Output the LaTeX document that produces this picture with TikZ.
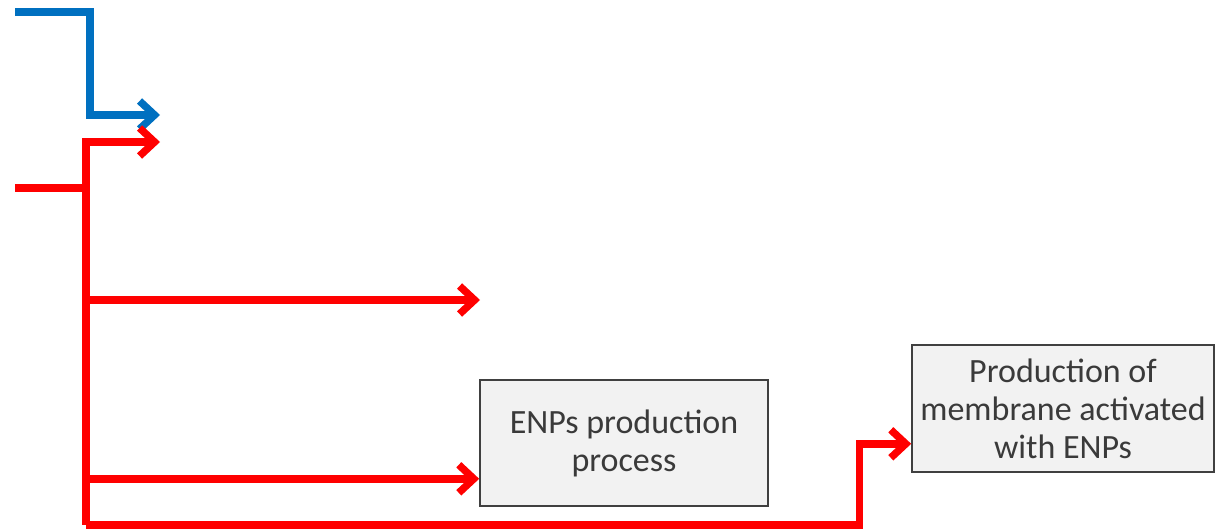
\documentclass[tikz,border=0pt]{standalone}
\usepackage{fontspec}
\setmainfont{Carlito}
\usetikzlibrary{arrows.meta, positioning, calc}
\definecolor{flowblue}{RGB}{0,112,192}
\definecolor{flowred}{RGB}{255,0,0}
\definecolor{boxfill}{RGB}{242,242,242}
\definecolor{boxline}{RGB}{64,64,64}

\begin{document}
\begin{tikzpicture}[
    x=0.5pt, y=-0.5pt,
    procbox/.style={rectangle, draw=boxline, fill=boxfill, line width=0.8pt,
                    align=center, text=boxline!90!black,
                    font=\fontsize{17}{19}\selectfont, inner sep=0pt},
    flow/.style={line width=3.7pt, draw=#1, line join=miter,
                 -{Straight Barb[length=7.5pt, width=14pt, line width=3.7pt]}},
    plain/.style={line width=3.7pt, draw=#1}
]
    \useasboundingbox (0,0) rectangle (1216,530);

    % process boxes
    \node[procbox, minimum width=144pt, minimum height=63pt] (enp) at (624,443)
        {ENPs production\\process};
    \node[procbox, minimum width=151pt, minimum height=63.5pt] (membrane) at (1063,408.5)
        {Production of\\membrane activated\\with ENPs};

    % free ends of the inputs
    \coordinate (blueIn)  at (15,12);
    \coordinate (blueOut) at (160,115);
    \coordinate (redIn)   at (15,188);
    \coordinate (trunk)   at (86,188);
    \coordinate (redOut)  at (160,142);
    \coordinate (midOut)  at (480,300);
    \coordinate (bottom)  at (86,525);
    \coordinate (enpIn)   at ($(enp.south west)+(0,-28)$);
    \coordinate (memIn)   at ($(membrane.south west)+(0,-29)$);

    % blue input
    \draw[flow=flowblue] (blueIn) -- ++(75,0) |- (blueOut);

    % red input and its branches
    \draw[plain=flowred] (redIn) -- (trunk);
    \draw[flow=flowred] (trunk) |- (redOut);
    \draw[plain=flowred] (trunk) -- (bottom);
    \draw[flow=flowred] (trunk |- midOut) -- (midOut);
    \draw[flow=flowred] (trunk |- enpIn) -- (enpIn);
    \draw[flow=flowred] (bottom) -| ($(memIn)+(-52,0)$) -- (memIn);
\end{tikzpicture}
\end{document}
